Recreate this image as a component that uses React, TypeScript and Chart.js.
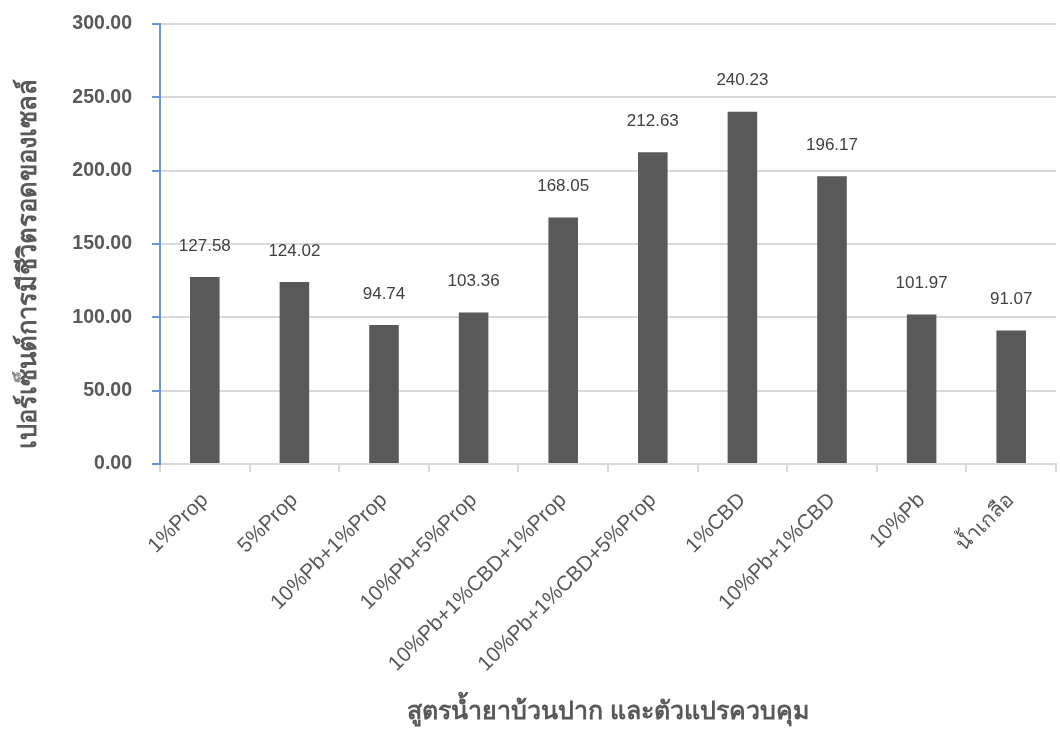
import React, { useEffect, useRef } from "react";
import { Chart, registerables } from "chart.js";

Chart.register(...registerables);

const categories = [
  "1%Prop",
  "5%Prop",
  "10%Pb+1%Prop",
  "10%Pb+5%Prop",
  "10%Pb+1%CBD+1%Prop",
  "10%Pb+1%CBD+5%Prop",
  "1%CBD",
  "10%Pb+1%CBD",
  "10%Pb",
  "น้ำเกลือ",
];
const survivalValues = [127.58, 124.02, 94.74, 103.36, 168.05, 212.63, 240.23, 196.17, 101.97, 91.07];
const yTitle = "เปอร์เซ็นต์การมีชีวิตรอดของเซลล์";
const xTitle = "สูตรน้ำยาบ้วนปาก และตัวแปรควบคุม";

const FONT = "'Liberation Sans', Arial, 'Noto Sans', sans-serif";

const dataLabelPlugin = {
  id: "dataLabels",
  afterDatasetsDraw(chart: any) {
    const ctx = chart.ctx;
    const meta = chart.getDatasetMeta(0);
    ctx.save();
    ctx.font = `17px ${FONT}`;
    ctx.fillStyle = "#404040";
    ctx.textAlign = "center";
    ctx.textBaseline = "middle";
    meta.data.forEach((bar: any, i: number) => {
      const v = chart.data.datasets[0].data[i] as number;
      ctx.fillText(v.toFixed(2), bar.x, bar.y - 31);
    });
    ctx.restore();
  },
};

const yTitlePlugin = {
  id: "yTitle",
  afterDraw(chart: any) {
    const ctx = chart.ctx;
    const area = chart.chartArea;
    ctx.save();
    ctx.translate(29, (area.top + area.bottom) / 2 + 20);
    ctx.rotate(-Math.PI / 2);
    ctx.font = `bold 25.5px ${FONT}`;
    ctx.fillStyle = "#595959";
    ctx.textAlign = "center";
    ctx.textBaseline = "middle";
    ctx.fillText(yTitle, 0, 0);
    ctx.restore();
  },
};

export default function App() {
  const ref = useRef<HTMLCanvasElement>(null);
  useEffect(() => {
    if (!ref.current) return;
    const chart = new Chart(ref.current, {
      type: "bar",
      data: {
        labels: categories,
        datasets: [
          {
            data: survivalValues,
            backgroundColor: "#595959",
            borderWidth: 0,
            categoryPercentage: 1,
            barPercentage: 0.33,
          },
        ],
      },
      options: {
        animation: false,
        responsive: true,
        maintainAspectRatio: false,
        layout: { padding: { left: 26, right: 4, top: 24, bottom: 2 } },
        plugins: {
          legend: { display: false },
          tooltip: { enabled: false },
        },
        scales: {
          x: {
            grid: {
              display: true,
              drawOnChartArea: false,
              offset: true,
              tickLength: 8,
              tickColor: "#d9d9d9",
              lineWidth: 2,
            },
            border: { color: "#d9d9d9", width: 2 },
            ticks: {
              autoSkip: false,
              minRotation: 45,
              maxRotation: 45,
              padding: 16,
              color: "#595959",
              font: { family: FONT, size: 21 },
            },
            title: {
              display: true,
              text: xTitle,
              color: "#595959",
              font: { family: FONT, size: 25, weight: "bold" },
              padding: { top: 0, bottom: 2 },
            },
            afterFit(scale: any) {
              scale.height = 731 - 464 - 2;
            },
          },
          y: {
            min: 0,
            max: 300,
            ticks: {
              stepSize: 50,
              padding: 20,
              color: "#595959",
              font: { family: FONT, size: 19.5, weight: "bold" },
              callback: (v: any) => Number(v).toFixed(2),
            },
            grid: {
              color: "#d9d9d9",
              lineWidth: 2,
              tickLength: 8,
              tickColor: "#6b93d8",
            },
            border: { color: "#6b93d8", width: 2 },
            title: { display: false },
            afterFit(scale: any) {
              scale.width = 160 - 26;
              scale.paddingTop = 0;
              scale.paddingBottom = 0;
            },
          },
        },
      },
      plugins: [dataLabelPlugin, yTitlePlugin],
    });
    return () => chart.destroy();
  }, []);
  return (
    <div style={{ position: "fixed", left: 0, top: 0, width: 1060, height: 731, background: "#fff" }}>
      <canvas ref={ref} />
    </div>
  );
}
